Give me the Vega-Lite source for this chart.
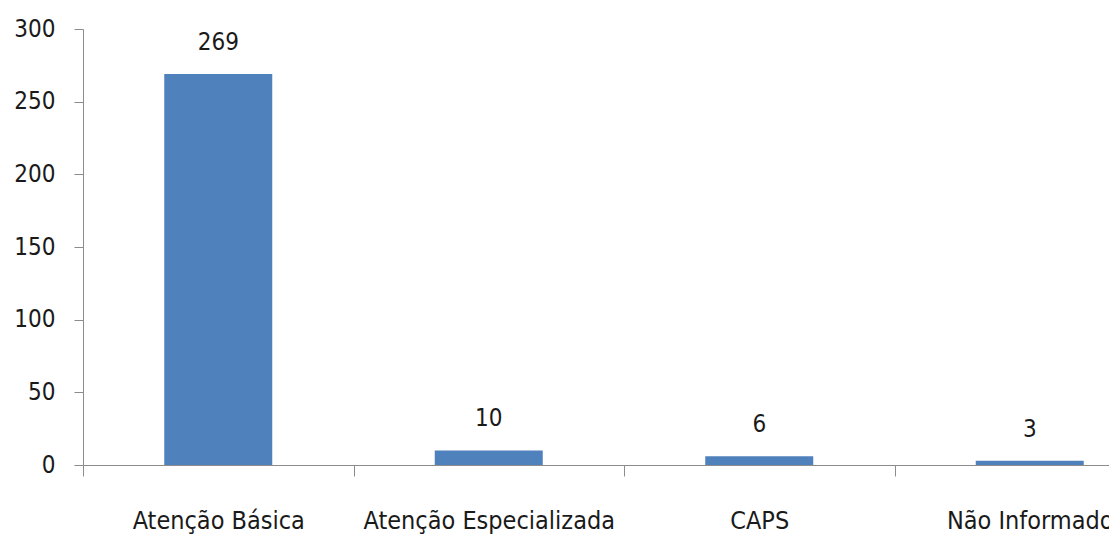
{
  "$schema": "https://vega.github.io/schema/vega-lite/v6.json",
  "width": 1082,
  "height": 436,
  "autosize": "none",
  "padding": {"left": 83, "top": 29, "right": 0, "bottom": 71},
  "background": "white",
  "data": {"values": [
    {"cat": "Atenção Básica", "v": 269},
    {"cat": "Atenção Especializada", "v": 10},
    {"cat": "CAPS", "v": 6},
    {"cat": "Não Informado", "v": 3}
  ]},
  "config": {"view": {"stroke": null}, "axis": {"grid": false}},
  "encoding": {
    "x": {"field": "cat", "type": "nominal", "sort": null,
      "scale": {"paddingInner": 0, "paddingOuter": 0},
      "axis": {"title": null, "orient": "bottom", "labelAngle": 0, "tickBand": "extent", "tickSize": 11,
        "tickColor": "#8c8c8c", "domainColor": "#8c8c8c", "labelFont": "DejaVu Sans Condensed", "labelFontSize": 25,
        "labelColor": "#1a1a1a", "labelPadding": 44, "labelBaseline": "middle", "labelLimit": 400}},
    "y": {"field": "v", "type": "quantitative",
      "scale": {"domain": [0, 300], "nice": false},
      "axis": {"title": null, "values": [0, 50, 100, 150, 200, 250, 300], "tickSize": 9, "labelPadding": 19,
        "tickColor": "#8c8c8c", "domainColor": "#8c8c8c", "labelFont": "DejaVu Sans Condensed", "labelFontSize": 24,
        "labelColor": "#1a1a1a"}}
  },
  "layer": [
    {"mark": {"type": "bar", "color": "#4F81BD", "size": 108}},
    {"mark": {"type": "text", "dy": -31, "baseline": "middle", "font": "DejaVu Sans Condensed", "fontSize": 24, "color": "#1a1a1a"},
     "encoding": {"text": {"field": "v", "type": "quantitative"}}}
  ]
}
